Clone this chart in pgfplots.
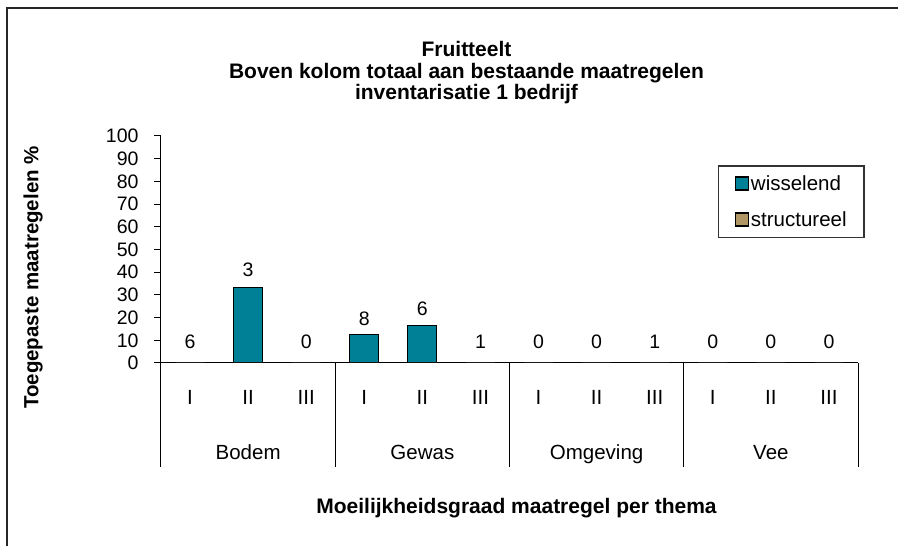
\documentclass[border=0pt]{standalone}
\usepackage{fontspec}
\setmainfont{Liberation Sans}
\usepackage{pgfplots}
\pgfplotsset{compat=1.18}
\definecolor{teal1}{RGB}{0,128,150}
\definecolor{tan1}{RGB}{176,150,100}
\begin{document}
\begin{tikzpicture}
\useasboundingbox (0,0) rectangle (898pt,546pt);
\draw[line width=2pt, black!85] (7pt,0pt) -- (7pt,538pt) -- (898pt,538pt);
\begin{axis}[
  at={(161pt,183pt)}, anchor=south west,
  scale only axis, width=697pt, height=227pt,
  xmin=0, xmax=12, ymin=0, ymax=100,
  clip=false,
  axis lines*=left,
  axis line style={line width=1pt, black},
  tick align=outside,
  ytick={0,10,...,100},
  xtick=\empty,
  minor xtick={1,2,4,5,7,8,10,11},
  minor tick length=52pt,
  major tick length=7pt,
  extra x ticks={0,3,6,9,12},
  extra x tick labels={},
  extra x tick style={major tick length=104pt},
  tick style={line width=1pt, black},
  minor tick style={line width=1pt, black},
  yticklabel style={font=\fontsize{19.5}{20}\selectfont, xshift=-12pt, /pgf/number format/assume math mode=true},
  legend style={at={(rel axis cs:0.799,0.872)}, anchor=north west, draw=black!80, line width=1.5pt,
    font=\fontsize{20.5}{22}\selectfont, inner xsep=16pt, inner ysep=8pt, row sep=17pt,
    nodes={inner sep=1.5pt}},
  legend cell align=left,
]
\addplot[ybar, bar shift=0pt, bar width=0.5, fill=teal1, draw=black, line width=1pt,
  legend image code/.code={\draw[fill=teal1,draw=black,line width=1.8pt] (0pt,-6.5pt) rectangle (13pt,6.5pt);}]
  coordinates {(0.5,0) (1.5,33.3) (2.5,0) (3.5,12.5) (4.5,16.7) (5.5,0) (6.5,0) (7.5,0) (8.5,0) (9.5,0) (10.5,0) (11.5,0)};
\addlegendentry{wisselend}
\addplot[ybar, bar shift=0pt, bar width=0.5, fill=tan1, draw=none,
  legend image code/.code={\draw[fill=tan1,draw=black,line width=1.8pt] (0pt,-6.5pt) rectangle (13pt,6.5pt);}]
  coordinates {(0.5,0) (1.5,0) (2.5,0) (3.5,0) (4.5,0) (5.5,0) (6.5,0) (7.5,0) (8.5,0) (9.5,0) (10.5,0) (11.5,0)};
\addlegendentry{structureel}
\addplot[draw=none, mark=none, forget plot, nodes near coords, point meta=explicit symbolic,
  every node near coord/.append style={anchor=center, inner sep=0pt, font=\fontsize{19.5}{20}\selectfont}]
  coordinates {(0.5,9.5)[6] (1.5,41.0)[3] (2.5,9.5)[0] (3.5,19.4)[8] (4.5,23.8)[6] (5.5,9.5)[1]
    (6.5,9.5)[0] (7.5,9.5)[0] (8.5,9.5)[1] (9.5,9.5)[0] (10.5,9.5)[0] (11.5,9.5)[0]};
\begin{scope}[every node/.style={font=\fontsize{20.5}{21}\selectfont, anchor=base, inner sep=0pt}]
\node[yshift=-42pt] at (axis cs:0.5,0) {I};
\node[yshift=-42pt] at (axis cs:1.5,0) {II};
\node[yshift=-42pt] at (axis cs:2.5,0) {III};
\node[yshift=-42pt] at (axis cs:3.5,0) {I};
\node[yshift=-42pt] at (axis cs:4.5,0) {II};
\node[yshift=-42pt] at (axis cs:5.5,0) {III};
\node[yshift=-42pt] at (axis cs:6.5,0) {I};
\node[yshift=-42pt] at (axis cs:7.5,0) {II};
\node[yshift=-42pt] at (axis cs:8.5,0) {III};
\node[yshift=-42pt] at (axis cs:9.5,0) {I};
\node[yshift=-42pt] at (axis cs:10.5,0) {II};
\node[yshift=-42pt] at (axis cs:11.5,0) {III};
\node[yshift=-97pt] at (axis cs:1.5,0) {Bodem};
\node[yshift=-97pt] at (axis cs:4.5,0) {Gewas};
\node[yshift=-97pt] at (axis cs:7.5,0) {Omgeving};
\node[yshift=-97pt] at (axis cs:10.5,0) {Vee};
\end{scope}
\end{axis}
\begin{scope}[every node/.style={font=\bfseries\fontsize{21}{22}\selectfont, inner sep=0pt}]
\node[anchor=base] at (466.5pt,489pt) {Fruitteelt};
\node[anchor=base] at (466.5pt,467pt) {Boven kolom totaal aan bestaande maatregelen};
\node[anchor=base] at (466.5pt,446pt) {inventarisatie 1 bedrijf};
\node[anchor=base] at (516.5pt,32pt) {Moeilijkheidsgraad maatregel per thema};
\node[anchor=center, rotate=90, font=\bfseries\fontsize{20.5}{22}\selectfont] at (33pt,268.5pt) {Toegepaste maatregelen \%};
\end{scope}
\end{tikzpicture}
\end{document}
